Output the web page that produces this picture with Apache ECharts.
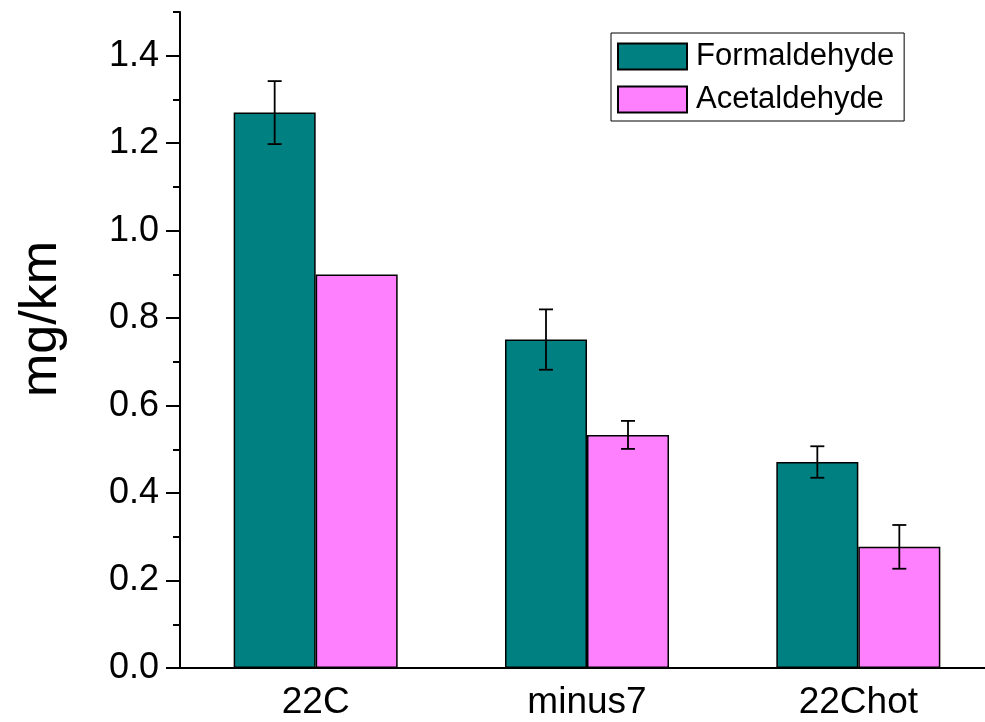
<!DOCTYPE html>
<html>
<head>
<meta charset="utf-8">
<script src="https://cdn.jsdelivr.net/npm/echarts@6/dist/echarts.min.js"></script>
<style>
  html, body { margin: 0; padding: 0; background: #fff; }
  #chart { width: 985px; height: 722px; }
</style>
</head>
<body>
<div id="chart"></div>
<script>
const categories = ['22C', 'minus7', '22Chot'];
const formaldehyde = [1.27, 0.751, 0.471];
const formaldehydeErr = [0.072, 0.069, 0.036];
const acetaldehyde = [0.900, 0.533, 0.277];
const acetaldehydeErr = [0, 0.032, 0.050];
const yTickLabels = [0, 0.2, 0.4, 0.6, 0.8, 1.0, 1.2, 1.4];

const FONT = 'Liberation Sans, Arial, sans-serif';
const BAR_W = 82;

// error bars drawn as custom series, shifted to the centre of each bar
const errorRows = (vals, errs) =>
  vals.map((v, i) => [i, v - errs[i], v + errs[i], errs[i]]).filter(r => r[3] > 0);

const errorSeries = (name, vals, errs, shift) => ({
  type: 'custom',
  name: name,
  xAxisIndex: 0,
  yAxisIndex: 0,
  z: 10,
  data: errorRows(vals, errs),
  encode: { x: 0, y: [1, 2] },
  renderItem: function (params, api) {
    const lo = api.coord([api.value(0), api.value(1)]);
    const hi = api.coord([api.value(0), api.value(2)]);
    const x = lo[0] + shift;
    const cap = 7;
    const style = { stroke: '#000', lineWidth: 1.8 };
    return {
      type: 'group',
      children: [
        { type: 'line', shape: { x1: x, y1: lo[1], x2: x, y2: hi[1] }, style: style },
        { type: 'line', shape: { x1: x - cap, y1: hi[1], x2: x + cap, y2: hi[1] }, style: style },
        { type: 'line', shape: { x1: x - cap, y1: lo[1], x2: x + cap, y2: lo[1] }, style: style }
      ]
    };
  }
});

const chart = echarts.init(document.getElementById('chart'));

const option = {
  backgroundColor: '#fff',
  animation: false,
  // plot runs a little past the right edge of the picture
  grid: { left: 180, width: 814, top: 12, bottom: 54, outerBoundsMode: 'none' },
  legend: {
    data: ['Formaldehyde', 'Acetaldehyde'],
    orient: 'vertical',
    left: 611,
    top: 33,
    padding: [8, 10, 6, 6],
    itemGap: 12,
    itemWidth: 69,
    itemHeight: 26,
    borderColor: '#000',
    borderWidth: 1,
    icon: 'rect',
    itemStyle: { borderColor: '#000', borderWidth: 2 },
    textStyle: { fontSize: 31, color: '#000', fontFamily: FONT, padding: [0, 0, 0, 4] }
  },
  xAxis: [
    {
      type: 'category',
      data: categories,
      axisLine: { lineStyle: { color: '#000', width: 2 } },
      axisTick: { alignWithLabel: true, length: 13, lineStyle: { color: '#000', width: 2 } },
      axisLabel: { fontSize: 37, color: '#000', fontFamily: FONT, margin: 16 }
    },
    {
      type: 'category',
      data: categories,
      position: 'bottom',
      axisLine: { show: false },
      axisTick: { length: 7, lineStyle: { color: '#000', width: 2 } },
      axisLabel: { show: false }
    }
  ],
  yAxis: [
    {
      type: 'value',
      min: 0,
      max: 1.5,
      interval: 0.1,
      name: 'mg/km',
      nameLocation: 'middle',
      nameGap: 112,
      nameTextStyle: { fontSize: 52, color: '#000', fontFamily: FONT, padding: [0, 0, 0, 42] },
      axisLine: { show: true, lineStyle: { color: '#000', width: 2 } },
      axisTick: { show: true, length: 7, lineStyle: { color: '#000', width: 2 } },
      axisLabel: {
        customValues: yTickLabels,
        formatter: v => v.toFixed(1),
        fontSize: 36,
        color: '#000',
        fontFamily: FONT,
        margin: 21
      },
      splitLine: { show: false }
    },
    {
      type: 'value',
      min: 0,
      max: 1.5,
      interval: 0.1,
      position: 'left',
      axisLine: { show: false },
      axisTick: { show: true, customValues: yTickLabels, length: 14, lineStyle: { color: '#000', width: 2 } },
      axisLabel: { show: false },
      splitLine: { show: false }
    }
  ],
  series: [
    {
      name: 'Formaldehyde',
      type: 'bar',
      data: formaldehyde,
      barWidth: BAR_W,
      barGap: '0%',
      itemStyle: { color: '#008080', borderColor: '#000', borderWidth: 1.5 }
    },
    {
      name: 'Acetaldehyde',
      type: 'bar',
      data: acetaldehyde,
      barWidth: BAR_W,
      barGap: '0%',
      itemStyle: { color: '#FF80FF', borderColor: '#000', borderWidth: 1.5 }
    },
    errorSeries('errF', formaldehyde, formaldehydeErr, -BAR_W / 2),
    errorSeries('errA', acetaldehyde, acetaldehydeErr, BAR_W / 2)
  ]
};

chart.setOption(option);
</script>
</body>
</html>
